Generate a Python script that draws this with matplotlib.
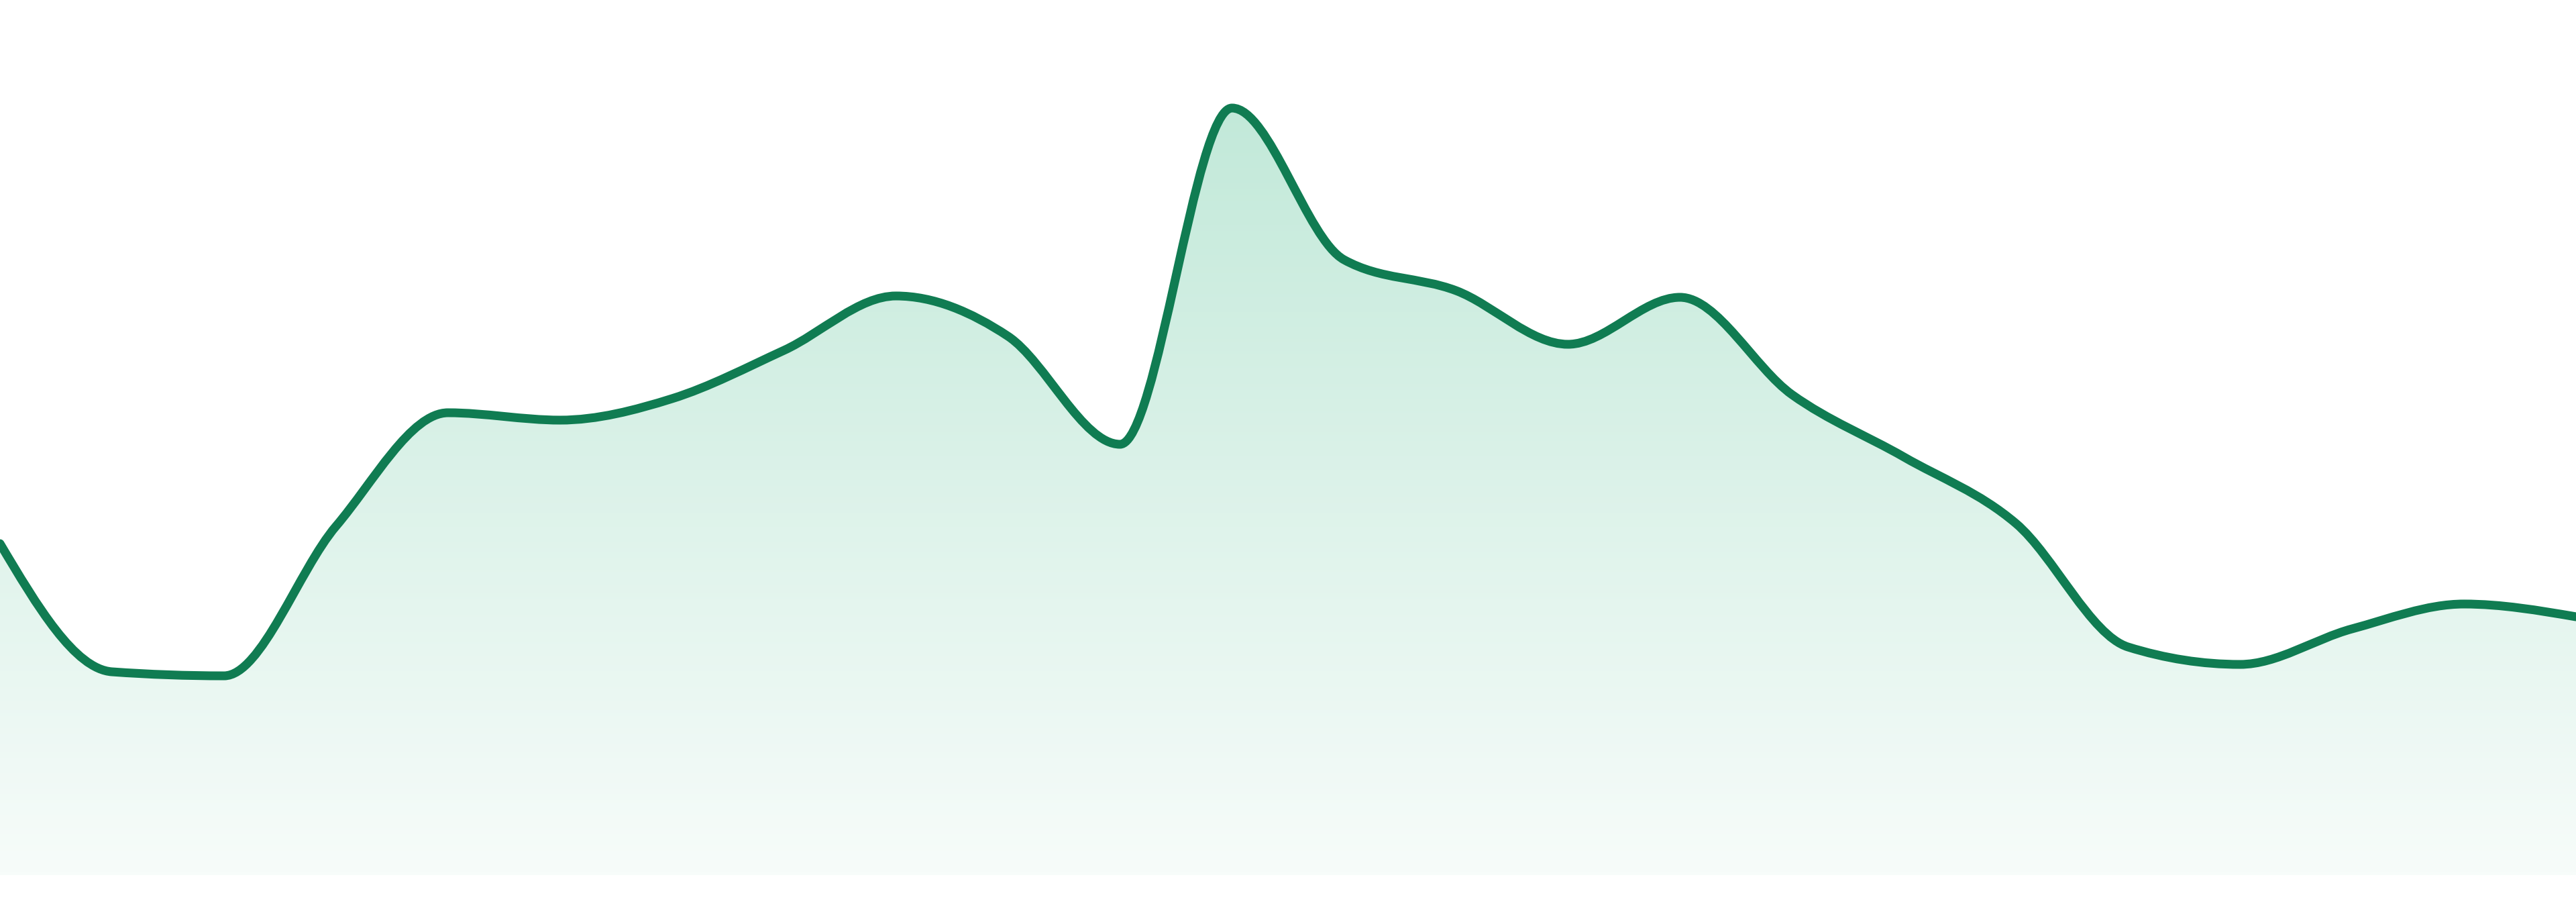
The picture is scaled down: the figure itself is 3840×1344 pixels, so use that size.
import matplotlib

matplotlib.use("Agg")
import matplotlib.colors as mcolors
import matplotlib.pyplot as plt
import numpy as np
from matplotlib.patches import PathPatch
from matplotlib.path import Path

# %%
x_idx = np.arange(24)
values = [49.4, 30.3, 29.7, 52.0, 68.9, 67.8, 71.0, 78.2, 86.3, 80.3, 64.2, 114.3,
          91.7, 87.1, 79.1, 86.1, 71.6, 62.3, 52.4, 34.0, 31.4, 36.7, 40.4, 38.5]
Y_MAX = 130.4

LINE_COLOR = "#107c52"
TOP_FILL = "#c2e9d9"
BOTTOM_FILL = "#f7fcfa"


# %%
def monotone_tangents(x, y):
    # d3 curveMonotoneX slopes
    x = np.asarray(x, float)
    y = np.asarray(y, float)
    h = np.diff(x)
    s = np.diff(y) / h
    t = np.zeros_like(y)
    for i in range(1, len(y) - 1):
        p = (s[i - 1] * h[i] + s[i] * h[i - 1]) / (h[i - 1] + h[i])
        t[i] = (np.sign(s[i - 1]) + np.sign(s[i])) * min(abs(s[i - 1]), abs(s[i]), 0.5 * abs(p))
    t[0] = (3 * s[0] - t[1]) / 2
    t[-1] = (3 * s[-1] - t[-2]) / 2
    return t


def monotone_path(x, y, close_to=None):
    t = monotone_tangents(x, y)
    verts = [(x[0], y[0])]
    codes = [Path.MOVETO]
    for i in range(len(x) - 1):
        dx = (x[i + 1] - x[i]) / 3
        verts += [(x[i] + dx, y[i] + dx * t[i]), (x[i + 1] - dx, y[i + 1] - dx * t[i + 1]), (x[i + 1], y[i + 1])]
        codes += [Path.CURVE4] * 3
    if close_to is not None:
        verts += [(x[-1], close_to), (x[0], close_to), (x[0], y[0])]
        codes += [Path.LINETO, Path.LINETO, Path.CLOSEPOLY]
    return Path(verts, codes)


# %%
fig = plt.figure(figsize=(19.2, 6.72), dpi=200)
ax = fig.add_axes([0, 40 / 1344, 1, 1304 / 1344])
ax.set_xlim(x_idx[0], x_idx[-1])
ax.set_ylim(0, Y_MAX)
ax.axis("off")

cmap = mcolors.LinearSegmentedColormap.from_list("fade", [BOTTOM_FILL, TOP_FILL])
grad = np.linspace(0, 1, 256).reshape(-1, 1)
img = ax.imshow(grad, cmap=cmap, aspect="auto", origin="lower",
                extent=[x_idx[0], x_idx[-1], 0, max(values)], zorder=1)
area = PathPatch(monotone_path(x_idx, values, close_to=0), facecolor="none", edgecolor="none")
ax.add_patch(area)
img.set_clip_path(area)

line = PathPatch(monotone_path(x_idx, values), facecolor="none", edgecolor=LINE_COLOR,
                 linewidth=4.7, capstyle="round", joinstyle="round", zorder=3)
ax.add_patch(line)

fig.savefig("out.png", dpi=200, facecolor="white")
